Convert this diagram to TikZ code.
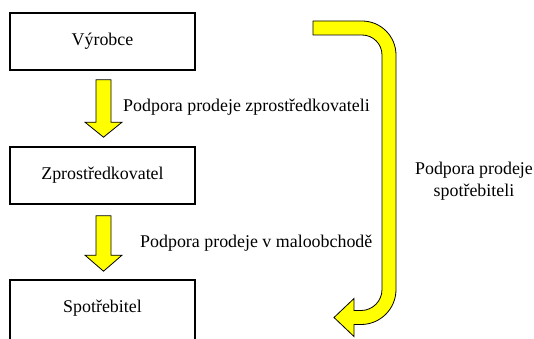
\documentclass[tikz,border=0pt]{standalone}
\usepackage{fontspec}
\setmainfont{Liberation Serif}
\newfontfamily\timesfont{Liberation Serif}
\usetikzlibrary{calc}
\definecolor{arrowyellow}{RGB}{255,255,0}
\tikzset{
  box/.style={draw=black, line width=1.6pt, minimum width=185pt, minimum height=57pt, inner sep=0pt},
  fat/.style={draw=black, line width=0.8pt, fill=arrowyellow, line join=miter},
  lbl/.style={inner sep=0pt},
}
\begin{document}
\begin{tikzpicture}[x=1pt,y=1pt,font=\timesfont\fontsize{17.9}{22}\selectfont]
\clip (0,0) rectangle (534,338);
\fill[white] (0,0) rectangle (534,338);
\node[box] (v) at (102.5,296.5) {Výrobce};
\node[box] (z) at (102.5,162.5) {Zprostředkovatel};
\node[box, minimum height=60pt] (s) at (102.5,28) {};
\node[lbl] (st) at (102.5,29.5) {Spotřebitel};
% arrow 1
\path (v.south) ++(1,-9) coordinate (a1s);
\path (z.north) ++(1,9) coordinate (a1t);
\draw[fat] ($(a1s)+(-7.5,0)$) -- ($(a1t)+(-7.5,15)$) -- ($(a1t)+(-18.5,15)$) -- (a1t)
  -- ($(a1t)+(18.5,15)$) -- ($(a1t)+(7.5,15)$) -- ($(a1s)+(7.5,0)$) -- cycle;
% arrow 2
\path (z.south) ++(1,-11) coordinate (a2s);
\path (s.north) ++(1,8) coordinate (a2t);
\draw[fat] ($(a2s)+(-7.5,0)$) -- ($(a2t)+(-7.5,16)$) -- ($(a2t)+(-18.5,16)$) -- (a2t)
  -- ($(a2t)+(18.5,16)$) -- ($(a2t)+(7.5,16)$) -- ($(a2s)+(7.5,0)$) -- cycle;
% labels
\node[lbl, anchor=west] (l1) at (123,231) {Podpora prodeje zprostředkovateli};
\node[lbl, anchor=west] (l2) at (140,95) {Podpora prodeje v maloobchodě};
\node[lbl, align=center] (l3) at (474,157) {Podpora prodeje\\spotřebiteli};
% curved arrow
\draw[fat] (313,317) -- (362,317) arc[start angle=90, end angle=0, radius=34]
  -- (396,48.5) arc[start angle=0, end angle=-90, radius=35]
  -- (354,13.5) -- (354,1.5) -- (334,20.5) -- (354,39.5) -- (354,27.5) -- (361,27.5)
  arc[start angle=-90, end angle=0, radius=21]
  -- (382,283) arc[start angle=0, end angle=90, radius=20]
  -- (313,303) -- cycle;
\end{tikzpicture}
\end{document}
